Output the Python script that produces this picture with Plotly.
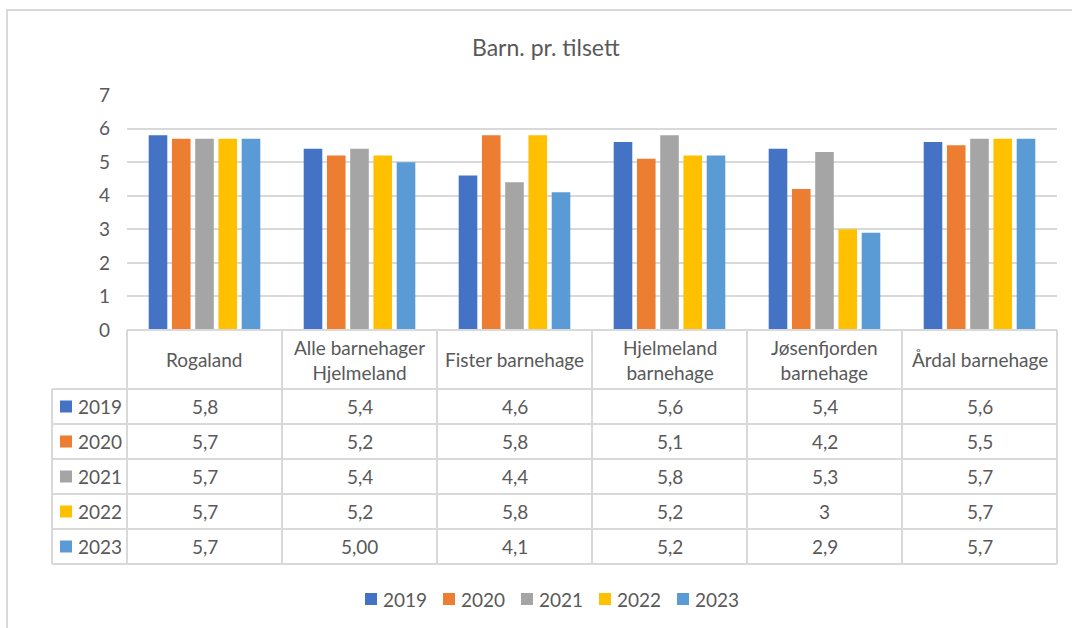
import plotly.graph_objects as go

categories = ["Rogaland", "Alle barnehager<br>Hjelmeland", "Fister barnehage",
              "Hjelmeland<br>barnehage", "Jøsenfjorden<br>barnehage", "Årdal barnehage"]
series_names = ["2019", "2020", "2021", "2022", "2023"]
colors = ["#4472C4", "#ED7D31", "#A5A5A5", "#FFC000", "#5B9BD5"]

v2019 = [5.8, 5.4, 4.6, 5.6, 5.4, 5.6]
v2020 = [5.7, 5.2, 5.8, 5.1, 4.2, 5.5]
v2021 = [5.7, 5.4, 4.4, 5.8, 5.3, 5.7]
v2022 = [5.7, 5.2, 5.8, 5.2, 3.0, 5.7]
v2023 = [5.7, 5.0, 4.1, 5.2, 2.9, 5.7]
values = [v2019, v2020, v2021, v2022, v2023]

# table display text as shown in the data table
t2019 = ["5,8", "5,4", "4,6", "5,6", "5,4", "5,6"]
t2020 = ["5,7", "5,2", "5,8", "5,1", "4,2", "5,5"]
t2021 = ["5,7", "5,4", "4,4", "5,8", "5,3", "5,7"]
t2022 = ["5,7", "5,2", "5,8", "5,2", "3", "5,7"]
t2023 = ["5,7", "5,00", "4,1", "5,2", "2,9", "5,7"]
table_text = [t2019, t2020, t2021, t2022, t2023]

y_ticks = [0, 1, 2, 3, 4, 5, 6, 7]
title = "Barn. pr. tilsett"

W, H = 1072, 628
FONT = "Lato"
TXT = "#595959"
GRID = "#D9D9D9"
FS = 19

x0, x1 = 127, 1057
y_top, y_zero = 95, 330
hdr_bottom = 389
row_h = 35
left_col = 52


def px(x):
    return x / W


def py(y):
    return 1 - y / H


fig = go.Figure()
for name, vals, c in zip(series_names, values, colors):
    fig.add_trace(go.Bar(x=list(range(len(categories))), y=vals, name=name,
                         marker=dict(color=c, line=dict(width=0)), showlegend=False))

shapes = []
annotations = []

# outer frame
shapes.append(dict(type="rect", xref="paper", yref="paper", x0=px(7), x1=px(1090),
                   y0=py(650), y1=py(10), line=dict(color=GRID, width=2), layer="below"))

ncat = len(categories)
colw = (x1 - x0) / ncat
nrows = len(series_names)
table_bottom = hdr_bottom + row_h * nrows

# table horizontal lines
shapes.append(dict(type="line", xref="paper", yref="paper", x0=px(x0), x1=px(x1),
                   y0=py(y_zero), y1=py(y_zero), line=dict(color=GRID, width=2)))
for r in range(nrows + 1):
    yy = hdr_bottom + r * row_h
    shapes.append(dict(type="line", xref="paper", yref="paper", x0=px(left_col), x1=px(x1),
                       y0=py(yy), y1=py(yy), line=dict(color=GRID, width=2)))
# vertical lines
for c in range(ncat + 1):
    xx = x0 + c * colw
    shapes.append(dict(type="line", xref="paper", yref="paper", x0=px(xx), x1=px(xx),
                       y0=py(y_zero), y1=py(table_bottom), line=dict(color=GRID, width=2)))
shapes.append(dict(type="line", xref="paper", yref="paper", x0=px(left_col), x1=px(left_col),
                   y0=py(hdr_bottom), y1=py(table_bottom), line=dict(color=GRID, width=2)))

# header labels
for c, cat in enumerate(categories):
    annotations.append(dict(xref="paper", yref="paper", x=px(x0 + (c + 0.5) * colw),
                            y=py((y_zero + hdr_bottom) / 2), text=cat, showarrow=False,
                            xanchor="center", yanchor="middle",
                            font=dict(family=FONT, size=FS, color=TXT)))
# rows
for r, (name, texts, col) in enumerate(zip(series_names, table_text, colors)):
    yc = hdr_bottom + (r + 0.5) * row_h
    shapes.append(dict(type="rect", xref="paper", yref="paper", x0=px(60), x1=px(72),
                       y0=py(yc + 6), y1=py(yc - 6), fillcolor=col, line=dict(width=0)))
    annotations.append(dict(xref="paper", yref="paper", x=px(76), y=py(yc), text=name,
                            showarrow=False, xanchor="left", yanchor="middle",
                            font=dict(family=FONT, size=FS, color=TXT)))
    for c, t in enumerate(texts):
        annotations.append(dict(xref="paper", yref="paper", x=px(x0 + (c + 0.5) * colw), y=py(yc),
                                text=t, showarrow=False, xanchor="center", yanchor="middle",
                                font=dict(family=FONT, size=FS, color=TXT)))

# bottom legend
leg_x0, leg_step, leg_y = 365, 78, 599
for i, (name, col) in enumerate(zip(series_names, colors)):
    lx = leg_x0 + i * leg_step
    shapes.append(dict(type="rect", xref="paper", yref="paper", x0=px(lx), x1=px(lx + 12),
                       y0=py(leg_y + 6), y1=py(leg_y - 6), fillcolor=col, line=dict(width=0)))
    annotations.append(dict(xref="paper", yref="paper", x=px(lx + 16), y=py(leg_y), text=name,
                            showarrow=False, xanchor="left", yanchor="middle",
                            font=dict(family=FONT, size=FS, color=TXT)))

# title
annotations.append(dict(xref="paper", yref="paper", x=px(546), y=py(47), text=title,
                        showarrow=False, xanchor="center", yanchor="middle",
                        font=dict(family=FONT, size=23, color=TXT)))

fig.update_layout(
    width=W, height=H,
    margin=dict(l=0, r=0, t=0, b=0, pad=0, autoexpand=False),
    paper_bgcolor="white", plot_bgcolor="white",
    barmode="group", bargap=0.25, bargroupgap=0.2,
    font=dict(family=FONT, size=FS, color=TXT),
    showlegend=False,
    xaxis=dict(domain=[px(x0), px(x1)], range=[-0.5, ncat - 0.5], showticklabels=False,
               showgrid=False, zeroline=False, showline=False, ticks="", automargin=False),
    yaxis=dict(domain=[py(y_zero), py(y_top)], range=[0, 7], tickvals=y_ticks,
               showgrid=True, gridcolor=GRID, gridwidth=2, zeroline=False, showline=False,
               ticks="", ticklabelstandoff=16, automargin=False,
               tickfont=dict(family=FONT, size=FS, color=TXT)),
    shapes=shapes, annotations=annotations,
)

fig.write_html("out.html", config={"displayModeBar": False},
               post_script="document.body.style.margin='0';document.body.style.overflow='hidden';")
